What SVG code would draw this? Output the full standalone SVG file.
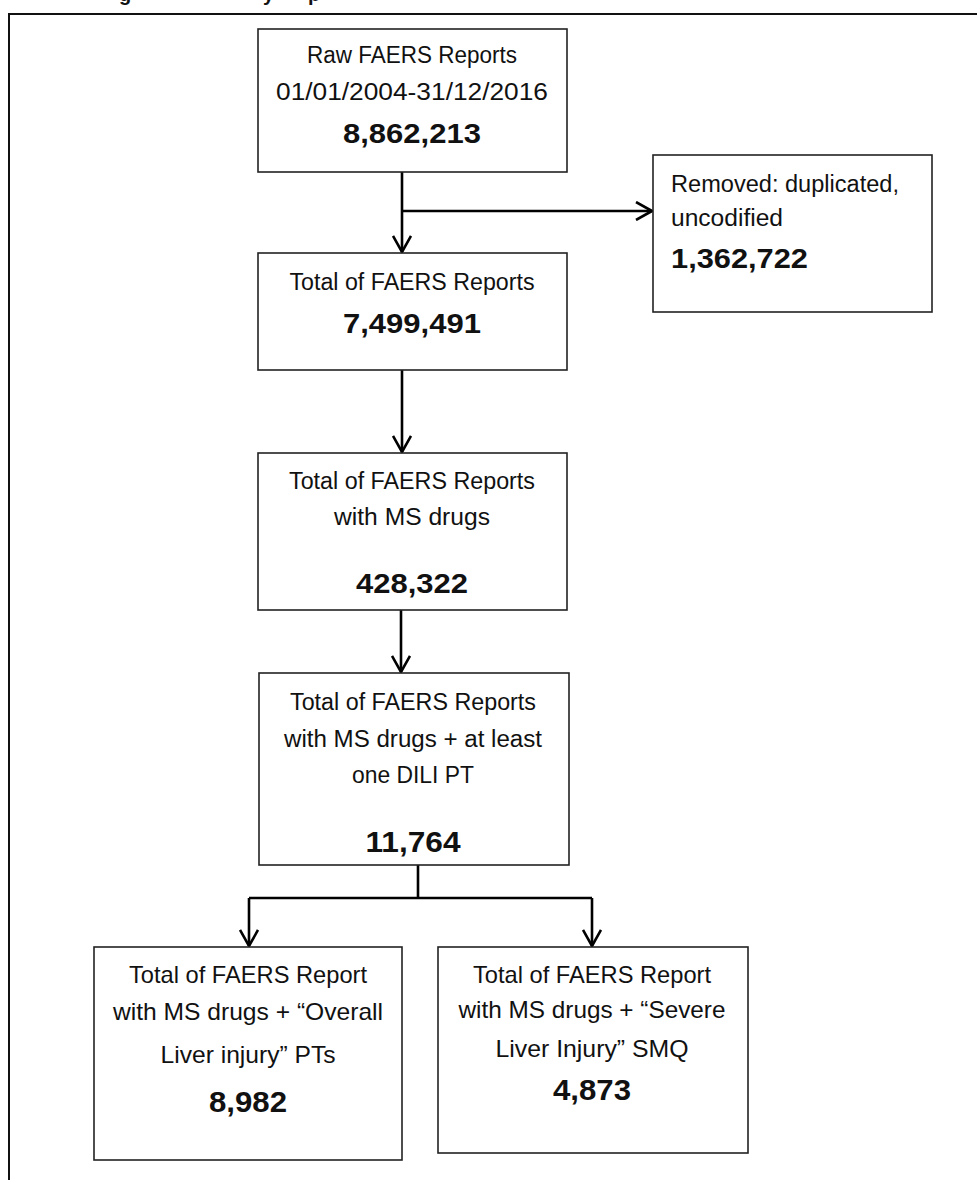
<svg xmlns="http://www.w3.org/2000/svg" width="977" height="1180" viewBox="0 0 977 1180">
<style>
.box{fill:#fff;stroke:#222;stroke-width:1.6}
.t{font-family:"Liberation Sans",Arial,sans-serif;font-size:23px;fill:#111;text-anchor:middle}
.tl{font-family:"Liberation Sans",Arial,sans-serif;font-size:23px;fill:#111}
.n{font-family:"Liberation Sans",Arial,sans-serif;font-size:28px;font-weight:bold;fill:#111;text-anchor:middle}
.nl{font-family:"Liberation Sans",Arial,sans-serif;font-size:28px;font-weight:bold;fill:#111}
.b{font-size:24px}
.bn{font-size:30px}
.c{fill:none;stroke:#000;stroke-width:2.6}
.frame{fill:none;stroke:#111;stroke-width:2}
</style>
<defs>
<marker id="ah" viewBox="0 0 18 20" refX="17" refY="10" markerWidth="18" markerHeight="20" markerUnits="userSpaceOnUse" orient="auto">
<path d="M1,1 L17,10 L1,19" fill="none" stroke="#000" stroke-width="2.6"/>
</marker>
</defs>
<rect width="977" height="1180" fill="#fff"/>
<text font-family="Liberation Sans,Arial,sans-serif" font-weight="bold" font-size="20" fill="#111" y="1"><tspan x="119">g</tspan><tspan x="263">y</tspan><tspan x="308">p</tspan></text>
<path class="frame" d="M9,1185 L9,14 L980,14"/>
<g id="connectors">
<path class="c" d="M402,172 L402,252" marker-end="url(#ah)"/>
<path class="c" d="M402,211 L652,211" marker-end="url(#ah)"/>
<path class="c" d="M402,370 L402,452" marker-end="url(#ah)"/>
<path class="c" d="M401,610 L401,672" marker-end="url(#ah)"/>
<path class="c" d="M418,865 L418,898 M249,898 L592,898"/>
<path class="c" d="M249,898 L249,946" marker-end="url(#ah)"/>
<path class="c" d="M592,898 L592,946" marker-end="url(#ah)"/>
</g>
<g id="raw">
<rect class="box" x="258" y="29" width="309" height="143"/>
<text class="t" x="412" y="63" textLength="210" lengthAdjust="spacingAndGlyphs">Raw FAERS Reports</text>
<text class="t" x="412" y="100" textLength="272" lengthAdjust="spacingAndGlyphs">01/01/2004-31/12/2016</text>
<text class="n" x="412" y="143" textLength="138" lengthAdjust="spacingAndGlyphs">8,862,213</text>
</g>
<g id="removed">
<rect class="box" x="653" y="155" width="279" height="157"/>
<text class="tl" x="671" y="192" textLength="228" lengthAdjust="spacingAndGlyphs">Removed: duplicated,</text>
<text class="tl" x="671" y="226" textLength="112" lengthAdjust="spacingAndGlyphs">uncodified</text>
<text class="nl" x="671" y="268" textLength="137" lengthAdjust="spacingAndGlyphs">1,362,722</text>
</g>
<g id="total">
<rect class="box" x="258" y="253" width="309" height="117"/>
<text class="t" x="412" y="290" textLength="245" lengthAdjust="spacingAndGlyphs">Total of FAERS Reports</text>
<text class="n" x="412" y="333" textLength="138" lengthAdjust="spacingAndGlyphs">7,499,491</text>
</g>
<g id="ms">
<rect class="box" x="258" y="453" width="309" height="157"/>
<text class="t" x="412" y="489" textLength="246" lengthAdjust="spacingAndGlyphs">Total of FAERS Reports</text>
<text class="t" x="412" y="525" textLength="156" lengthAdjust="spacingAndGlyphs">with MS drugs</text>
<text class="n" x="412" y="593" textLength="112" lengthAdjust="spacingAndGlyphs">428,322</text>
</g>
<g id="dili">
<rect class="box" x="259" y="673" width="310" height="192"/>
<text class="t" x="413" y="710" textLength="246" lengthAdjust="spacingAndGlyphs">Total of FAERS Reports</text>
<text class="t" x="413" y="747" textLength="258" lengthAdjust="spacingAndGlyphs">with MS drugs + at least</text>
<text class="t" x="413" y="783" textLength="122" lengthAdjust="spacingAndGlyphs">one DILI PT</text>
<text class="n bn" x="413" y="852" textLength="95" lengthAdjust="spacingAndGlyphs">11,764</text>
</g>
<g id="overall">
<rect class="box" x="94" y="947" width="308" height="213"/>
<text class="t b" x="248" y="983" textLength="238" lengthAdjust="spacingAndGlyphs">Total of FAERS Report</text>
<text class="t b" x="248" y="1020" textLength="270" lengthAdjust="spacingAndGlyphs">with MS drugs + “Overall</text>
<text class="t b" x="248" y="1063" textLength="175" lengthAdjust="spacingAndGlyphs">Liver injury” PTs</text>
<text class="n bn" x="248" y="1112" textLength="78" lengthAdjust="spacingAndGlyphs">8,982</text>
</g>
<g id="severe">
<rect class="box" x="438" y="947" width="310" height="206"/>
<text class="t b" x="592" y="983" textLength="238" lengthAdjust="spacingAndGlyphs">Total of FAERS Report</text>
<text class="t b" x="592" y="1018" textLength="267" lengthAdjust="spacingAndGlyphs">with MS drugs + “Severe</text>
<text class="t b" x="592" y="1057" textLength="193" lengthAdjust="spacingAndGlyphs">Liver Injury” SMQ</text>
<text class="n bn" x="592" y="1100" textLength="78" lengthAdjust="spacingAndGlyphs">4,873</text>
</g>
</svg>
